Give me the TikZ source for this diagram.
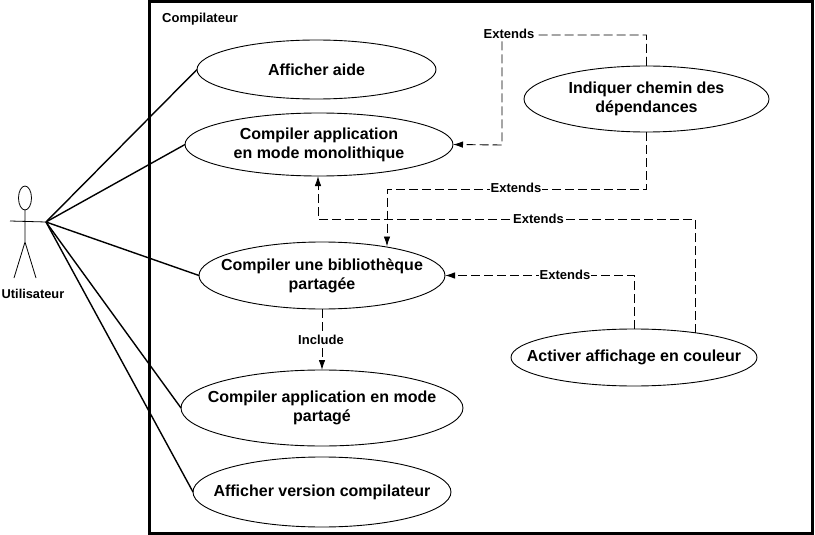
\documentclass[tikz,border=0pt]{standalone}
\usepackage{fontspec}
\setmainfont{Liberation Sans}
\usetikzlibrary{arrows.meta,shapes.geometric}
\newcommand{\uctext}[2][0pt]{\raisebox{#1}{\makebox[0pt]{\parbox{320pt}{\centering #2}}}}
\tikzset{
 uc/.style={draw=black,line width=0.9pt,fill=white,ellipse,inner sep=0pt,outer sep=0pt,font=\fontsize{16}{19}\selectfont\bfseries,align=center},
 dep/.style={draw=black,line width=0.9pt,dash pattern=on 9pt off 4pt},
 arr/.style={-{Latex[length=10pt,width=6.5pt]}},
 lab/.style={fill=white,inner sep=1pt,font=\fontsize{13}{14}\selectfont\bfseries},
 assoc/.style={draw=black,line width=1.4pt},
}
\begin{document}
\begin{tikzpicture}[x=1pt,y=-1pt]
\useasboundingbox (0,0) rectangle (815,535);
\node[draw=black,line width=3pt,outer sep=0pt,minimum width=663pt,minimum height=531pt,inner sep=0pt,anchor=north west] (frame) at (149,2) {};
\node[font=\fontsize{13}{14}\selectfont\bfseries,anchor=west,inner sep=0pt] (title) at (162,19) {Compilateur};
\node[uc,minimum width=239pt,minimum height=59pt] (aide) at (316.5,69.5) {\uctext[1pt]{Afficher aide}};
\node[uc,minimum width=268pt,minimum height=63pt] (mono) at (319,144.5) {\uctext{Compiler application\\en mode monolithique}};
\node[uc,minimum width=245pt,minimum height=66pt] (chemin) at (646.5,99) {\uctext[-1pt]{Indiquer chemin des\\dépendances}};
\node[uc,minimum width=246pt,minimum height=67pt] (biblio) at (322,275.5) {\uctext[-1pt]{Compiler une bibliothèque\\partagée}};
\node[uc,minimum width=246pt,minimum height=57pt] (couleur) at (634,357.5) {\uctext[-1pt]{Activer affichage en couleur}};
\node[uc,minimum width=282pt,minimum height=76pt] (partage) at (322,408) {\uctext[-2pt]{Compiler application en mode\\partagé}};
\node[uc,minimum width=258pt,minimum height=70pt] (version) at (322,492) {\uctext{Afficher version compilateur}};
% actor
\coordinate (hand) at (46,222);
\coordinate (handl) at (10,221);
\coordinate (hip) at (25,242);
\coordinate (footl) at (14,278);
\coordinate (footr) at (36,278);
\node[draw=black,line width=0.8pt,ellipse,outer sep=0pt,minimum width=13pt,minimum height=24pt,inner sep=0pt] (head) at (25,198) {};
\draw[line width=0.8pt] (head.south) -- (hip) (handl) -- (hand) (hip) -- (footl) (hip) -- (footr);
\node[font=\fontsize{12.8}{14}\selectfont\bfseries,inner sep=0pt] (actor) at (33,294) {Utilisateur};
\draw[assoc] (hand) -- (aide.west);
\draw[assoc] (hand) -- (mono.west);
\draw[assoc] (hand) -- (biblio.west);
\draw[assoc] (hand) -- (partage.west);
\draw[assoc] (hand) -- (version.west);
% extends
\coordinate (a3) at (502,35); \coordinate (a4) at (502,145);
\draw[dep,arr] (chemin.north) |- (a3) -- (a4) -- (mono.east);
\node[lab] (l1) at (509,34) {Extends};
\coordinate (b1) at (646.5,189); \coordinate (b2) at (387,189); \coordinate (b3) at (387,246.5);
\draw[dep,arr] (chemin.south) -- (b1) -- (b2) -- (b3);
\node[lab] (l2) at (516,188) {Extends};
\coordinate (c1) at (695,333); \coordinate (c2) at (695,219); \coordinate (c3) at (318,219);
\draw[dep,arr] (c1) -- (c2) -- (c3) -- (mono.south -| c3);
\node[lab] (l3) at (538.5,219) {Extends};
\coordinate (d2) at (634,275.5);
\draw[dep,arr] (couleur.north) -- (d2) -- (biblio.east);
\node[lab] (l4) at (565,275) {Extends};
\draw[dep,arr] (biblio.south) -- (partage.north);
\node[lab] (l5) at (321,340) {Include};
\end{tikzpicture}
\end{document}
